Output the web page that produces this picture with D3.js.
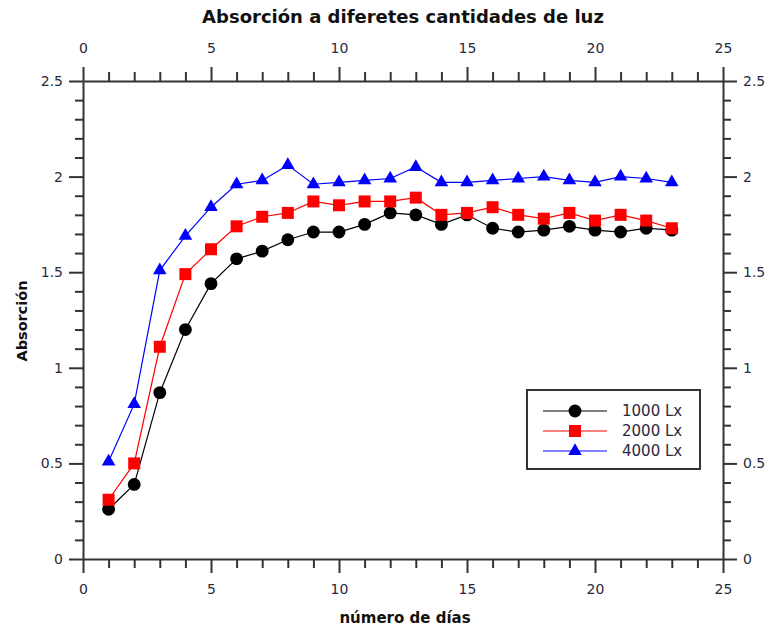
<!DOCTYPE html>
<html>
<head>
<meta charset="utf-8">
<script src="https://cdn.jsdelivr.net/npm/d3@7"></script>
<style>
  html, body { margin: 0; padding: 0; background: #fff; }
  svg { display: block; font-family: "DejaVu Sans", Verdana, sans-serif; }
</style>
</head>
<body>
<svg id="chart" width="772" height="630"></svg>
<script>
// Days of measurement
const days = [1,2,3,4,5,6,7,8,9,10,11,12,13,14,15,16,17,18,19,20,21,22,23];

// Absorption per light level
const lux1000 = [0.26,0.39,0.87,1.20,1.44,1.57,1.61,1.67,1.71,1.71,1.75,1.81,1.80,1.75,1.80,1.73,1.71,1.72,1.74,1.72,1.71,1.73,1.72];
const lux2000 = [0.31,0.50,1.11,1.49,1.62,1.74,1.79,1.81,1.87,1.85,1.87,1.87,1.89,1.80,1.81,1.84,1.80,1.78,1.81,1.77,1.80,1.77,1.73];
const lux4000 = [0.51,0.81,1.51,1.69,1.84,1.96,1.98,2.06,1.96,1.97,1.98,1.99,2.05,1.97,1.97,1.98,1.99,2.00,1.98,1.97,2.00,1.99,1.97];

const seriesNames = ["1000 Lx", "2000 Lx", "4000 Lx"];
const seriesColors = ["#000000", "#ff0000", "#0000ff"];
const seriesSymbols = [d3.symbolCircle, d3.symbolSquare, d3.symbolTriangle];
const seriesSizes = [130, 144, 80];

const xTicks = [0,5,10,15,20,25];
const yTicks = [0,0.5,1,1.5,2,2.5];

const titleText = "Absorción a diferetes cantidades de luz";
const xTitle = "número de días";
const yTitle = "Absorción";

const svg = d3.select("#chart");
const plotLeft = 83, plotRight = 723, plotTop = 81, plotBottom = 559;

const x = d3.scaleLinear().domain([0, 25]).range([plotLeft, plotRight]);
const y = d3.scaleLinear().domain([0, 2.5]).range([plotBottom, plotTop]);

const axisColor = "#333";
const fontSize = 14;

function styleAxis(g) {
  g.select(".domain").attr("stroke", axisColor).attr("stroke-width", 2);
  g.selectAll(".tick line").attr("stroke", axisColor).attr("stroke-width", 2);
  g.selectAll(".tick text").attr("fill", "#2a2a3a").attr("font-size", fontSize)
    .attr("font-family", "DejaVu Sans, sans-serif");
}
function styleMinor(g) {
  g.select(".domain").remove();
  g.selectAll("line").attr("stroke", axisColor).attr("stroke-width", 2);
}

// Minor ticks (outward)
const xMinor = d3.range(0, 26, 1).filter(v => v % 5 !== 0);
const yMinor = d3.range(0, 26, 1).filter(v => v % 5 !== 0).map(v => v / 10);

svg.append("g").attr("transform", `translate(0,${plotBottom})`)
  .call(d3.axisBottom(x).tickValues(xMinor).tickSize(9).tickFormat(""))
  .call(styleMinor);
svg.append("g").attr("transform", `translate(0,${plotTop})`)
  .call(d3.axisTop(x).tickValues(xMinor).tickSize(9).tickFormat(""))
  .call(styleMinor);
svg.append("g").attr("transform", `translate(${plotLeft},0)`)
  .call(d3.axisLeft(y).tickValues(yMinor).tickSize(8).tickFormat(""))
  .call(styleMinor);
svg.append("g").attr("transform", `translate(${plotRight},0)`)
  .call(d3.axisRight(y).tickValues(yMinor).tickSize(8).tickFormat(""))
  .call(styleMinor);

// Major axes on all four sides
const fmt = d3.format("");
svg.append("g").attr("transform", `translate(0,${plotBottom})`)
  .call(d3.axisBottom(x).tickValues(xTicks).tickSize(14).tickSizeOuter(0).tickPadding(11).tickFormat(fmt))
  .call(styleAxis);
svg.append("g").attr("transform", `translate(0,${plotTop})`)
  .call(d3.axisTop(x).tickValues(xTicks).tickSize(14).tickSizeOuter(0).tickPadding(14).tickFormat(fmt))
  .call(styleAxis);
svg.append("g").attr("transform", `translate(${plotLeft},0)`)
  .call(d3.axisLeft(y).tickValues(yTicks).tickSize(14).tickSizeOuter(0).tickPadding(6).tickFormat(fmt))
  .call(styleAxis);
svg.append("g").attr("transform", `translate(${plotRight},0)`)
  .call(d3.axisRight(y).tickValues(yTicks).tickSize(14).tickSizeOuter(0).tickPadding(6).tickFormat(fmt))
  .call(styleAxis);

// Series lines and markers
const allSeries = [lux1000, lux2000, lux4000];
const line = d3.line().x((d, i) => x(days[i])).y(d => y(d));

allSeries.forEach((vals, s) => {
  svg.append("path")
    .datum(vals)
    .attr("fill", "none")
    .attr("stroke", seriesColors[s])
    .attr("stroke-width", 1.2)
    .attr("d", line);
});
allSeries.forEach((vals, s) => {
  svg.append("g").selectAll("path")
    .data(vals)
    .join("path")
    .attr("transform", (d, i) => `translate(${x(days[i])},${y(d)})`)
    .attr("d", d3.symbol().type(seriesSymbols[s]).size(seriesSizes[s]))
    .attr("fill", seriesColors[s]);
});

// Legend
const legend = svg.append("g");
legend.append("rect")
  .attr("x", 527).attr("y", 390).attr("width", 173).attr("height", 79)
  .attr("fill", "#fff").attr("stroke", axisColor).attr("stroke-width", 2);
seriesNames.forEach((name, s) => {
  const ly = 411 + s * 20;
  legend.append("line")
    .attr("x1", 543).attr("x2", 607).attr("y1", ly).attr("y2", ly)
    .attr("stroke", seriesColors[s]).attr("stroke-width", 1.2);
  legend.append("path")
    .attr("transform", `translate(575,${ly})`)
    .attr("d", d3.symbol().type(seriesSymbols[s]).size(seriesSizes[s]))
    .attr("fill", seriesColors[s]);
  legend.append("text")
    .attr("x", 622).attr("y", ly).attr("dy", "0.35em")
    .attr("font-size", 15).attr("fill", "#2a2a3a")
    .text(name);
});

// Titles
svg.append("text")
  .attr("x", 403).attr("y", 17).attr("dy", "0.35em")
  .attr("text-anchor", "middle")
  .attr("font-size", 18).attr("font-weight", "bold").attr("fill", "#111")
  .text(titleText);
svg.append("text")
  .attr("x", 405).attr("y", 618).attr("dy", "0.35em")
  .attr("text-anchor", "middle")
  .attr("font-size", 15).attr("font-weight", "bold").attr("fill", "#111")
  .text(xTitle);
svg.append("text")
  .attr("transform", "translate(22,321) rotate(-90)")
  .attr("dy", "0.35em")
  .attr("text-anchor", "middle")
  .attr("font-size", 14.5).attr("font-weight", "bold").attr("fill", "#111")
  .text(yTitle);
</script>
</body>
</html>
